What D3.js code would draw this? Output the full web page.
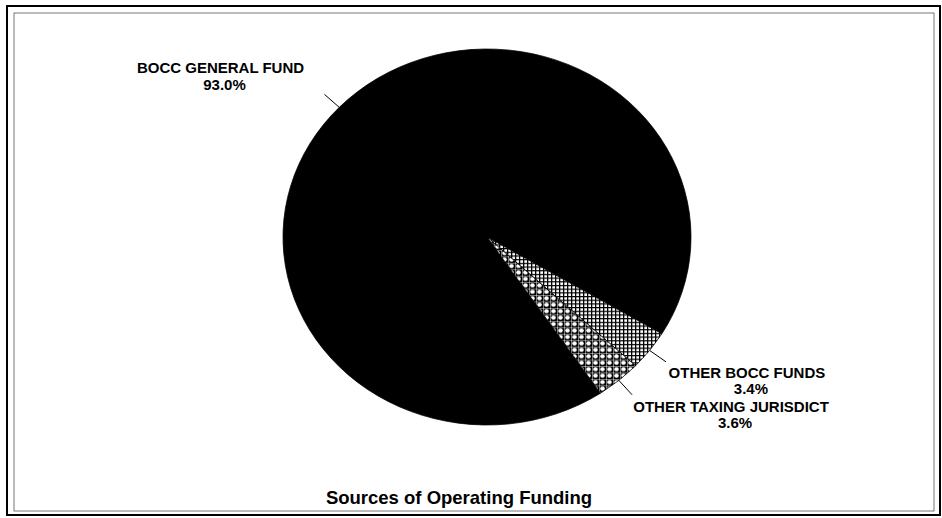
<!DOCTYPE html>
<html>
<head>
<meta charset="utf-8">
<script src="https://cdn.jsdelivr.net/npm/d3@7"></script>
<style>
  html, body { margin: 0; padding: 0; background: #fff; }
  svg { display: block; }
  text { font-family: "Liberation Sans", Arial, sans-serif; fill: #000; }
</style>
</head>
<body>
<svg id="chart" width="942" height="518"></svg>
<script>
// Funding sources and their shares (%)
const categories = ["BOCC GENERAL FUND", "OTHER BOCC FUNDS", "OTHER TAXING JURISDICT"];
const shares = [93.0, 3.4, 3.6];
const chartTitle = "Sources of Operating Funding";

const W = 942, H = 518;
const svg = d3.select("#chart");
const defs = svg.append("defs");

// Fine cross-hatch fill
const hatch = defs.append("pattern").attr("id", "crosshatch")
  .attr("patternUnits", "userSpaceOnUse").attr("width", 4).attr("height", 4);
hatch.append("rect").attr("width", 4).attr("height", 4).attr("fill", "#fff");
hatch.append("rect").attr("x", 0).attr("y", 0).attr("width", 4).attr("height", 1.3).attr("fill", "#000");
hatch.append("rect").attr("x", 0).attr("y", 0).attr("width", 1.3).attr("height", 4).attr("fill", "#000");

// Coarse checker fill: white dots on black grid
const check = defs.append("pattern").attr("id", "checker")
  .attr("patternUnits", "userSpaceOnUse").attr("width", 7).attr("height", 7);
check.append("rect").attr("width", 7).attr("height", 7).attr("fill", "#000");
check.append("circle").attr("cx", 3.5).attr("cy", 3.5).attr("r", 2.3).attr("fill", "#fff");
check.append("rect").attr("x", 0).attr("y", 0).attr("width", 7).attr("height", 0.8).attr("fill", "#fff").attr("opacity", 0.6);
check.append("rect").attr("x", 0).attr("y", 0).attr("width", 0.8).attr("height", 7).attr("fill", "#fff").attr("opacity", 0.6);

const fills = ["#000", "url(#crosshatch)", "url(#checker)"];

// Frame
svg.append("rect").attr("x", 7).attr("y", 6).attr("width", 933).attr("height", 509)
  .attr("fill", "none").attr("stroke", "#000").attr("stroke-width", 2);
svg.append("rect").attr("x", 14).attr("y", 13).attr("width", 920).attr("height", 498)
  .attr("fill", "none").attr("stroke", "#555").attr("stroke-width", 0.8);

// Pie (slightly elliptical)
const cx = 487, cy = 237, rx = 204, ry = 188;
const sy = ry / rx;
const startDeg = 146.2;
const pie = d3.pie().sort(null)
  .startAngle(startDeg * Math.PI / 180)
  .endAngle(startDeg * Math.PI / 180 + 2 * Math.PI);
const arcs = pie(shares);
const arc = d3.arc().innerRadius(0).outerRadius(rx);

const g = svg.append("g").attr("transform", `translate(${cx},${cy}) scale(1,${sy})`);
g.selectAll("path").data(arcs).join("path")
  .attr("d", arc)
  .attr("fill", (d, i) => fills[i])
  .attr("stroke", "#000")
  .attr("stroke-width", 0.8);

// Leader lines and labels
const labelOffset = [[-104, -21], [81, 16], [99, 17]];
const pt = (a, k) => [cx + Math.sin(a) * rx * k, cy - Math.cos(a) * ry * k];

arcs.forEach((d, i) => {
  const a = (d.startAngle + d.endAngle) / 2;
  const p0 = pt(a, 1.0), p1 = pt(a, 1.1);
  svg.append("line")
    .attr("x1", p0[0]).attr("y1", p0[1]).attr("x2", p1[0]).attr("y2", p1[1])
    .attr("stroke", "#000").attr("stroke-width", 1);
  const tx = p1[0] + labelOffset[i][0], ty = p1[1] + labelOffset[i][1];
  const t = svg.append("text").attr("text-anchor", "middle")
    .attr("font-size", 15).attr("font-weight", "bold");
  t.append("tspan").attr("x", tx).attr("y", ty).text(categories[i]);
  t.append("tspan").attr("x", tx + 4).attr("y", ty + 16.5).text(shares[i].toFixed(1) + "%");
});

// Title
svg.append("text").attr("x", 459).attr("y", 504).attr("text-anchor", "middle")
  .attr("font-size", 18.5).attr("font-weight", "bold").text(chartTitle);
</script>
</body>
</html>
